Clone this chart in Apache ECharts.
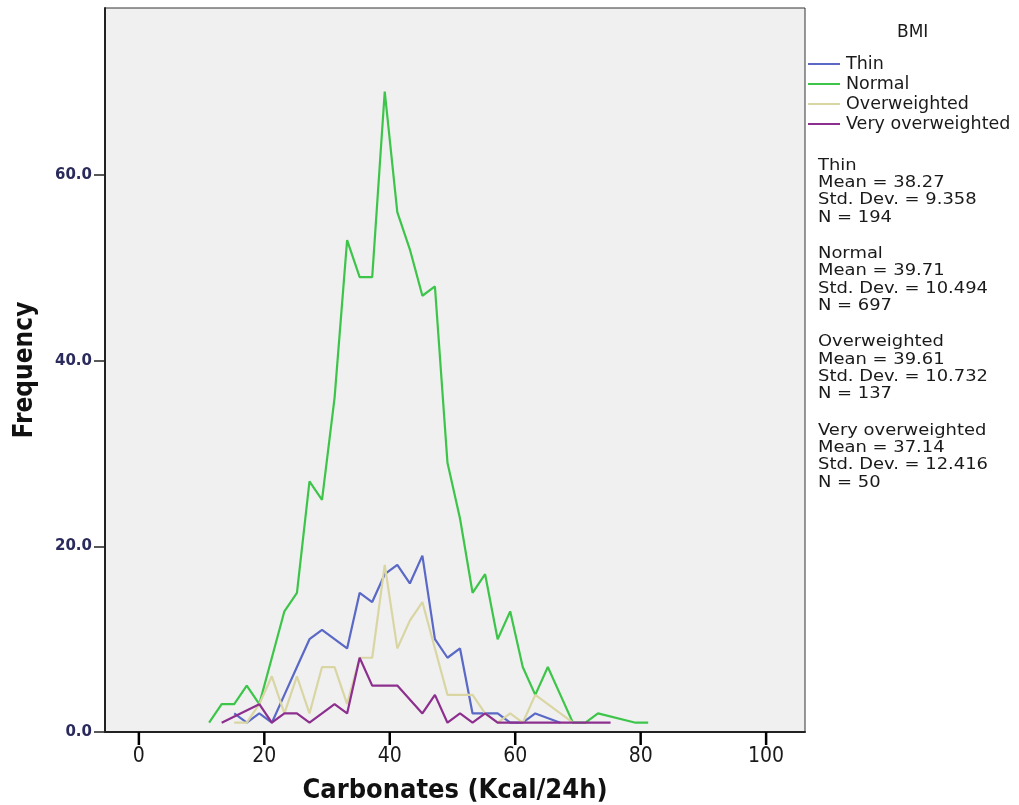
<!DOCTYPE html>
<html>
<head>
<meta charset="utf-8">
<script src="https://cdn.jsdelivr.net/npm/echarts@6/dist/echarts.min.js"></script>
<style>
  html, body { margin: 0; padding: 0; background: #ffffff; overflow: hidden; }
  #chart { width: 1019px; height: 805px; }
</style>
</head>
<body>
<div id="chart"></div>
<script>
// Frequency polygon of daily carbohydrate intake, one line per BMI group.
// Bin centres (Kcal/24h); a null count means an empty bin, which is skipped.
const binCenters = [11.2, 13.2, 15.2, 17.2, 19.2, 21.2, 23.2, 25.2, 27.2, 29.2,
                    31.2, 33.2, 35.2, 37.2, 39.2, 41.2, 43.2, 45.2, 47.2, 49.2,
                    51.2, 53.2, 55.2, 57.2, 59.2, 61.2, 63.2, 65.2, 67.2, 69.2,
                    71.2, 73.2, 75.2, 77.2, 79.2, 81.2];

const thinCounts = [null, null, 2, 1, 2, 1, 4, 7, 10, 11,
                    10, 9, 15, 14, 17, 18, 16, 19, 10, 8,
                    9, 2, 2, 2, 1, 1, 2, null, 1, null,
                    null, null, null, null, null, null];

const normalCounts = [1, 3, 3, 5, 3, 8, 13, 15, 27, 25,
                      36, 53, 49, 49, 69, 56, 52, 47, 48, 29,
                      23, 15, 17, 10, 13, 7, 4, 7, 4, 1,
                      1, 2, null, null, 1, 1];

const overCounts = [null, null, 1, 1, 3, 6, 2, 6, 2, 7,
                    7, 3, 8, 8, 18, 9, 12, 14, 9, 4,
                    null, 4, 2, 1, 2, 1, 4, null, 2, 1,
                    null, null, null, null, null, null];

const veryOverCounts = [null, 1, null, null, 3, 1, 2, 2, 1, 2,
                        3, 2, 8, 5, null, 5, null, 2, 4, 1,
                        2, 1, 2, 1, null, null, null, 1, null, null,
                        null, null, 1, null, null, null];

const groupNames = ['Thin', 'Normal', 'Overweighted', 'Very overweighted'];
const groupColors = ['#5a68c6', '#3dc54a', '#d9d6a4', '#8c2f8e'];
const groupCounts = [thinCounts, normalCounts, overCounts, veryOverCounts];

// Summary statistics printed beside the legend
const statMeans = ['38.27', '39.71', '39.61', '37.14'];
const statStdDevs = ['9.358', '10.494', '10.732', '12.416'];
const statNs = ['194', '697', '137', '50'];

const xTicks = [0, 20, 40, 60, 80, 100];
const yTicks = [0, 20, 40, 60];

const toPoints = counts => binCenters
  .map((x, i) => [x, counts[i]])
  .filter(p => p[1] !== null);

const series = groupNames.map((name, i) => ({
  name: name,
  type: 'line',
  data: toPoints(groupCounts[i]),
  showSymbol: false,
  symbol: 'none',
  lineStyle: { color: groupColors[i], width: 2.2 },
  itemStyle: { color: groupColors[i] },
  z: 2 + i
}));

const statFont = '16px "DejaVu Sans", sans-serif';
const statGraphics = groupNames.map((name, i) => ({
  type: 'text',
  x: 818,
  y: 157 + i * 88.3,
  scaleX: 1.12,
  style: {
    text: [name, 'Mean = ' + statMeans[i], 'Std. Dev. = ' + statStdDevs[i], 'N = ' + statNs[i]].join('\n'),
    font: statFont,
    lineHeight: 17.3,
    fill: '#1a1a1a'
  }
}));

const titleGraphic = {
  type: 'text',
  x: 897,
  y: 24,
  style: { text: 'BMI', font: '17px "DejaVu Sans", sans-serif', fill: '#1a1a1a' }
};

const chart = echarts.init(document.getElementById('chart'), null, { renderer: 'canvas' });
chart.setOption({
  backgroundColor: '#ffffff',
  animation: false,
  grid: {
    left: 105, top: 8, width: 700, height: 724,
    outerBoundsMode: 'none',
    containLabel: false,
    show: true,
    backgroundColor: '#f0f0f0',
    borderColor: '#333333',
    borderWidth: 1
  },
  legend: {
    data: groupNames,
    orient: 'vertical',
    left: 808,
    top: 55,
    padding: 0,
    icon: 'rect',
    itemWidth: 32,
    itemHeight: 2,
    itemGap: 2,
    textStyle: {
      fontFamily: 'DejaVu Sans',
      fontSize: 17.5,
      lineHeight: 17,
      color: '#1a1a1a',
      padding: [0, 0, 0, 1]
    }
  },
  graphic: [titleGraphic].concat(statGraphics),
  xAxis: {
    type: 'value',
    min: -5.4,
    max: 106.2,
    name: 'Carbonates (Kcal/24h)',
    nameLocation: 'middle',
    nameGap: 45,
    nameTextStyle: {
      fontFamily: '"Liberation Sans Narrow", "DejaVu Sans Condensed", sans-serif',
      fontWeight: 'bold',
      fontSize: 27,
      color: '#111111'
    },
    axisLine: { show: true, onZero: false, lineStyle: { color: '#222222', width: 2 } },
    axisTick: { show: false },
    axisLabel: {
      customValues: xTicks,
      margin: 14,
      fontFamily: '"Liberation Sans Narrow", "DejaVu Sans Condensed", sans-serif',
      fontSize: 21,
      color: '#1a1a1a'
    },
    splitLine: { show: false }
  },
  yAxis: {
    type: 'value',
    min: 0,
    max: 78,
    name: 'Frequency',
    nameLocation: 'middle',
    nameRotate: 90,
    nameGap: 67,
    nameTextStyle: {
      fontFamily: '"Liberation Sans Narrow", "DejaVu Sans Condensed", sans-serif',
      fontWeight: 'bold',
      fontSize: 26,
      color: '#111111'
    },
    axisLine: { show: true, onZero: false, lineStyle: { color: '#222222', width: 2 } },
    axisTick: { show: true, customValues: yTicks, length: 11, lineStyle: { color: '#222222', width: 1.5 } },
    axisLabel: {
      customValues: yTicks,
      margin: 13,
      formatter: v => v.toFixed(1),
      fontFamily: '"DejaVu Sans", sans-serif',
      fontWeight: 'bold',
      fontSize: 15,
      color: '#2a2a5c'
    },
    splitLine: { show: false }
  },
  series: series
});

// Outward tick marks under the x axis, placed through the x scale
const axisY = chart.convertToPixel({ yAxisIndex: 0 }, 0);
const tickGraphics = xTicks.map(v => {
  const px = chart.convertToPixel({ xAxisIndex: 0 }, v);
  return {
    type: 'line',
    shape: { x1: px, y1: axisY, x2: px, y2: axisY + 13 },
    style: { stroke: '#000000', lineWidth: 2.5 },
    z: 100
  };
});
chart.setOption({ graphic: [titleGraphic].concat(statGraphics, tickGraphics) });
</script>
</body>
</html>
